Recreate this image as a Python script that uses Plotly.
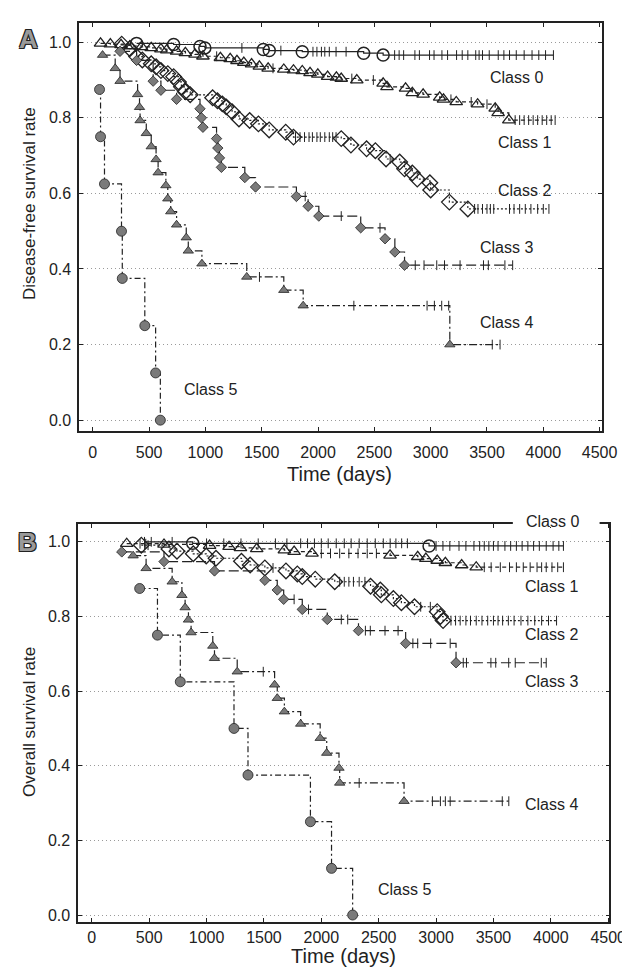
import plotly.graph_objects as go

W, H = 630, 968

# ---------------- Panel A: disease-free survival ----------------
A_c0_t = [389, 718, 952, 995, 1514, 1567, 1860, 2405, 2578]
A_c0_s = [0.997, 0.994, 0.989, 0.985, 0.981, 0.978, 0.975, 0.971, 0.966]
A_c0_cens = [1324, 1670, 1955, 1990, 2030, 2060, 2100, 2160, 2249, 2680, 2720, 2760, 2860, 2900,
             2990, 3030, 3100, 3150, 3230, 3280, 3330, 3400, 3430, 3460, 3520, 3600, 3650, 3700,
             3760, 3830, 3900, 3960, 4020, 4090]

A_c1_t = [69, 156, 251, 330, 433, 519, 605, 657, 744, 822, 908, 978, 1133, 1220, 1280, 1341, 1410,
          1479, 1557, 1696, 1782, 1860, 1929, 1998, 2085, 2163, 2206, 2344, 2578, 2612, 2777, 2837,
          2933, 3080, 3114, 3227, 3417, 3573, 3599, 3694]
A_c1_s = [0.997, 0.995, 0.993, 0.990, 0.988, 0.985, 0.982, 0.979, 0.976, 0.972, 0.968, 0.963, 0.959,
          0.956, 0.951, 0.946, 0.942, 0.936, 0.931, 0.928, 0.926, 0.924, 0.919, 0.915, 0.909, 0.907,
          0.904, 0.900, 0.891, 0.882, 0.878, 0.866, 0.862, 0.854, 0.849, 0.842, 0.836, 0.825, 0.813,
          0.794]
A_c1_cens = [1100, 1600, 2300, 2491, 3180, 3360, 3500, 3750, 3790, 3830, 3870, 3910, 3950, 3990,
             4030, 4070, 4105]

A_c2_t = [257, 329, 389, 440, 519, 562, 605, 666, 718, 761, 787, 822, 865, 1064, 1107, 1150, 1185,
          1237, 1298, 1393, 1471, 1566, 1713, 1782, 2206, 2292, 2431, 2509, 2604, 2725, 2768, 2837,
          2881, 2993, 3000, 3166, 3330]
A_c2_s = [0.995, 0.983, 0.962, 0.953, 0.943, 0.935, 0.925, 0.917, 0.909, 0.895, 0.882, 0.869, 0.861,
          0.853, 0.845, 0.837, 0.829, 0.816, 0.797, 0.793, 0.784, 0.768, 0.762, 0.749, 0.745, 0.728,
          0.718, 0.713, 0.691, 0.683, 0.665, 0.654, 0.638, 0.628, 0.609, 0.577, 0.559]
A_c2_cens = [1800, 1840, 1880, 1920, 1950, 1990, 2020, 2060, 2100, 2130, 2160, 2640, 3390, 3420,
             3460, 3500, 3530, 3560, 3700, 3740, 3790, 3840, 3890, 3950, 4000, 4050]

A_c3_t = [242, 389, 536, 605, 744, 952, 965, 978, 1099, 1110, 1125, 1142, 1350, 1445, 1808, 1912,
          2007, 2379, 2595, 2682, 2768]
A_c3_s = [0.976, 0.952, 0.897, 0.873, 0.849, 0.824, 0.800, 0.775, 0.745, 0.720, 0.694, 0.669, 0.642,
          0.617, 0.592, 0.566, 0.540, 0.509, 0.480, 0.445, 0.410]
A_c3_cens = [1886, 2206, 2550, 2863, 2941, 3054, 3123, 3261, 3469, 3512, 3659, 3728]

A_c4_t = [87, 199, 242, 398, 415, 420, 475, 519, 562, 580, 649, 666, 692, 744, 830, 848, 969, 1367,
          1696, 1868, 3170]
A_c4_s = [0.966, 0.931, 0.897, 0.862, 0.828, 0.793, 0.759, 0.724, 0.690, 0.655, 0.621, 0.586, 0.552,
          0.517, 0.483, 0.448, 0.414, 0.379, 0.344, 0.303, 0.200]
A_c4_cens = [1480, 2318, 2968, 3033, 3098, 3160, 3547, 3616]

A_c5_t = [60, 69, 104, 255, 262, 462, 558, 600]
A_c5_s = [0.875, 0.750, 0.625, 0.500, 0.375, 0.250, 0.125, 0.0]
A_c5_cens = []

# ---------------- Panel B: overall survival ----------------
B_c0_t = [879, 2939]
B_c0_s = [0.996, 0.989]
B_c0_cens = [459, 518, 700, 1000, 1150, 1300, 1450, 1600, 1700, 1820, 1880, 1940, 2000, 2060, 2130,
             2200, 2260, 2330, 2400, 2470, 2540, 2600, 2650, 2700, 2750, 3000, 3060, 3120, 3200,
             3260, 3330, 3380, 3420, 3460, 3500, 3540, 3600, 3650, 3700, 3750, 3800, 3850, 3900,
             3960, 4020, 4070, 4110]

B_c1_t = [304, 629, 1026, 1196, 1295, 1437, 1678, 1763, 1919, 2599, 2840, 2911, 3010, 3081, 3223, 3350]
B_c1_s = [0.995, 0.993, 0.990, 0.987, 0.984, 0.981, 0.978, 0.974, 0.969, 0.964, 0.960, 0.955, 0.950,
          0.944, 0.938, 0.932]
B_c1_cens = [420, 470, 2000, 2080, 2160, 2240, 2320, 2400, 2480, 3420, 3480, 3560, 3640, 3700, 3760,
             3820, 3880, 3920, 3960, 4010, 4060, 4110]

B_c2_t = [431, 672, 742, 884, 997, 1082, 1304, 1380, 1508, 1692, 1791, 1834, 1947, 2117, 2429, 2514,
          2523, 2628, 2698, 2812, 3010, 3038, 3061]
B_c2_s = [0.991, 0.981, 0.975, 0.968, 0.962, 0.956, 0.948, 0.938, 0.930, 0.922, 0.914, 0.907, 0.900,
          0.893, 0.881, 0.871, 0.858, 0.848, 0.837, 0.826, 0.813, 0.800, 0.789]
B_c2_cens = [460, 490, 1579, 2160, 2200, 2240, 2280, 2330, 2380, 2866, 2950, 3130, 3170, 3210, 3260,
             3300, 3350, 3400, 3450, 3500, 3540, 3580, 3630, 3680, 3740, 3800, 3860, 3920, 3980, 4050]

B_c3_t = [261, 629, 1069, 1508, 1616, 1672, 1834, 2052, 2324, 2735, 3174]
B_c3_s = [0.973, 0.947, 0.922, 0.897, 0.871, 0.846, 0.819, 0.792, 0.762, 0.728, 0.676]
B_c3_cens = [1763, 1888, 2174, 2230, 2384, 2427, 2555, 2669, 2798, 2840, 2953, 3123, 3237, 3265,
             3478, 3520, 3633, 3690, 3917, 3960]

B_c4_t = [360, 473, 700, 785, 813, 842, 865, 1054, 1069, 1267, 1593, 1616, 1678, 1820, 1990, 2047,
          2154, 2160, 2721]
B_c4_s = [0.963, 0.929, 0.893, 0.857, 0.824, 0.791, 0.757, 0.721, 0.688, 0.652, 0.617, 0.581, 0.545,
          0.512, 0.474, 0.434, 0.394, 0.354, 0.305]
B_c4_cens = [1494, 2330, 2968, 3038, 3081, 3123, 3577, 3634]

B_c5_t = [417, 572, 771, 1239, 1361, 1905, 2089, 2273]
B_c5_s = [0.875, 0.750, 0.625, 0.500, 0.375, 0.250, 0.125, 0.0]
B_c5_cens = []

CLASS_NAMES = ["Class 0", "Class 1", "Class 2", "Class 3", "Class 4", "Class 5"]
X_TICKS = [0, 500, 1000, 1500, 2000, 2500, 3000, 3500, 4000, 4500]
Y_TICKS = [0.0, 0.2, 0.4, 0.6, 0.8, 1.0]

INK = "#222222"
GREY = "#7a7a7a"
STYLES = [
    dict(dash="solid", symbol="circle-open", size=12, fill=INK, lw=1.5),
    dict(dash="4px,3px", symbol="triangle-up-open", size=11, fill=INK, lw=1.3),
    dict(dash="2px,2px", symbol="diamond-open", size=12, fill=INK, lw=1.3),
    dict(dash="10px,4px", symbol="diamond", size=8, fill=GREY, lw=0.8),
    dict(dash="8px,3px,2px,3px", symbol="triangle-up", size=9, fill=GREY, lw=0.8),
    dict(dash="6px,3px,2px,3px", symbol="circle", size=10, fill=GREY, lw=0.8),
]


def km_path(ev_t, ev_s, cens):
    obs = sorted([(t, s, True) for t, s in zip(ev_t, ev_s)] + [(t, None, False) for t in cens],
                 key=lambda o: o[0])
    level = 1.0
    xs, ys, cx, cy = [], [], [], []
    for t, s, is_event in obs:
        if is_event:
            level = s
        xs.append(t)
        ys.append(level)
        if not is_event:
            cx.append(t)
            cy.append(level)
    return xs, ys, cx, cy


fig = go.Figure()

panels = [
    ("x", "y", [(A_c0_t, A_c0_s, A_c0_cens), (A_c1_t, A_c1_s, A_c1_cens), (A_c2_t, A_c2_s, A_c2_cens),
                (A_c3_t, A_c3_s, A_c3_cens), (A_c4_t, A_c4_s, A_c4_cens), (A_c5_t, A_c5_s, A_c5_cens)]),
    ("x2", "y2", [(B_c0_t, B_c0_s, B_c0_cens), (B_c1_t, B_c1_s, B_c1_cens), (B_c2_t, B_c2_s, B_c2_cens),
                  (B_c3_t, B_c3_s, B_c3_cens), (B_c4_t, B_c4_s, B_c4_cens), (B_c5_t, B_c5_s, B_c5_cens)]),
]

for xa, ya, series in panels:
    for i, (et, es, ce) in enumerate(series):
        st = STYLES[i]
        xs, ys, cx, cy = km_path(et, es, ce)
        fig.add_trace(go.Scatter(x=xs, y=ys, mode="lines", line=dict(shape="hv", color=INK, width=1.2,
                                 dash=st["dash"]), xaxis=xa, yaxis=ya, showlegend=False,
                                 name=CLASS_NAMES[i]))
        if cx:
            fig.add_trace(go.Scatter(x=cx, y=cy, mode="markers",
                                     marker=dict(symbol="line-ns", size=7, line=dict(color=INK, width=1)),
                                     xaxis=xa, yaxis=ya, showlegend=False))
        fig.add_trace(go.Scatter(x=et, y=es, mode="markers",
                                 marker=dict(symbol=st["symbol"], size=st["size"], color=st["fill"],
                                             line=dict(color=INK, width=st["lw"])),
                                 xaxis=xa, yaxis=ya, showlegend=False, name=CLASS_NAMES[i]))

FONT = "Liberation Sans, Arial, Helvetica, sans-serif"


def px_x(px):
    return px / W


def px_y(py):
    return 1 - py / H


axis_common = dict(showline=True, linecolor=INK, linewidth=1.6, mirror="allticks", ticks="inside",
                   ticklen=4, tickcolor=INK, zeroline=False,
                   tickfont=dict(family=FONT, size=16, color=INK))

fig.update_layout(
    width=W, height=H, margin=dict(l=0, r=0, t=0, b=0),
    paper_bgcolor="white", plot_bgcolor="white",
    xaxis=dict(domain=[px_x(73), px_x(609)], range=[-121, 4517], tickvals=X_TICKS, showgrid=False,
               anchor="y", ticklabelstandoff=6, **axis_common),
    yaxis=dict(domain=[px_y(424), px_y(15)], range=[-0.029, 1.051], tickvals=Y_TICKS,
               tickformat=".1f", showgrid=True, griddash="1px,3px", gridcolor="#9a9a9a", gridwidth=1,
               anchor="x", ticklabelstandoff=3, **axis_common),
    xaxis2=dict(domain=[px_x(72), px_x(617)], range=[-119, 4510], tickvals=X_TICKS, showgrid=False,
                anchor="y2", ticklabelstandoff=0, **axis_common),
    yaxis2=dict(domain=[px_y(916), px_y(517)], range=[-0.019, 1.048], tickvals=Y_TICKS,
                tickformat=".1f", showgrid=True, griddash="1px,3px", gridcolor="#9a9a9a", gridwidth=1,
                anchor="x2", ticklabelstandoff=3, **axis_common),
)

# white gap in top frame of panel B behind "Class 0"
fig.add_shape(type="rect", xref="paper", yref="paper", x0=px_x(518), x1=px_x(607),
              y0=px_y(520), y1=px_y(513), fillcolor="white", line=dict(width=0), layer="above")

ann = []
# axis titles
ann.append(dict(text="Disease-free survival rate", x=px_x(22), y=px_y(196), textangle=-90,
                font=dict(family=FONT, size=17, color=INK)))
ann.append(dict(text="Overall survival rate", x=px_x(22), y=px_y(715), textangle=-90,
                font=dict(family=FONT, size=17, color=INK)))
ann.append(dict(text="Time (days)", x=px_x(340), y=px_y(467), font=dict(family=FONT, size=20, color=INK)))
ann.append(dict(text="Time (days)", x=px_x(344), y=px_y(950), font=dict(family=FONT, size=20, color=INK)))

# class labels
A_label_pos = [(522, 70), (530, 135), (530, 183), (512, 240), (512, 315), (208, 382)]
B_label_pos = [(559, 515), (558, 580), (558, 628), (558, 675), (558, 798), (407, 883)]
for name, (lx, ly) in zip(CLASS_NAMES, A_label_pos):
    ann.append(dict(text=name, x=px_x(lx), y=px_y(ly), font=dict(family=FONT, size=16, color=INK)))
for name, (lx, ly) in zip(CLASS_NAMES, B_label_pos):
    ann.append(dict(text=name, x=px_x(lx), y=px_y(ly), font=dict(family=FONT, size=16, color=INK)))

# panel letters
outline = "-1px -1px 0 #222, 1px -1px 0 #222, -1px 1px 0 #222, 1px 1px 0 #222"
ann.append(dict(text="<b>A</b>", x=px_x(21), y=px_y(31),
                font=dict(family=FONT, size=26, color="#9a9a9a", shadow=outline)))
ann.append(dict(text="<b>B</b>", x=px_x(20), y=px_y(535),
                font=dict(family=FONT, size=26, color="#9a9a9a", shadow=outline)))

for a in ann:
    a.update(xref="paper", yref="paper", showarrow=False, xanchor="center", yanchor="middle")
fig.update_layout(annotations=ann)

fig.write_html("out.html")
